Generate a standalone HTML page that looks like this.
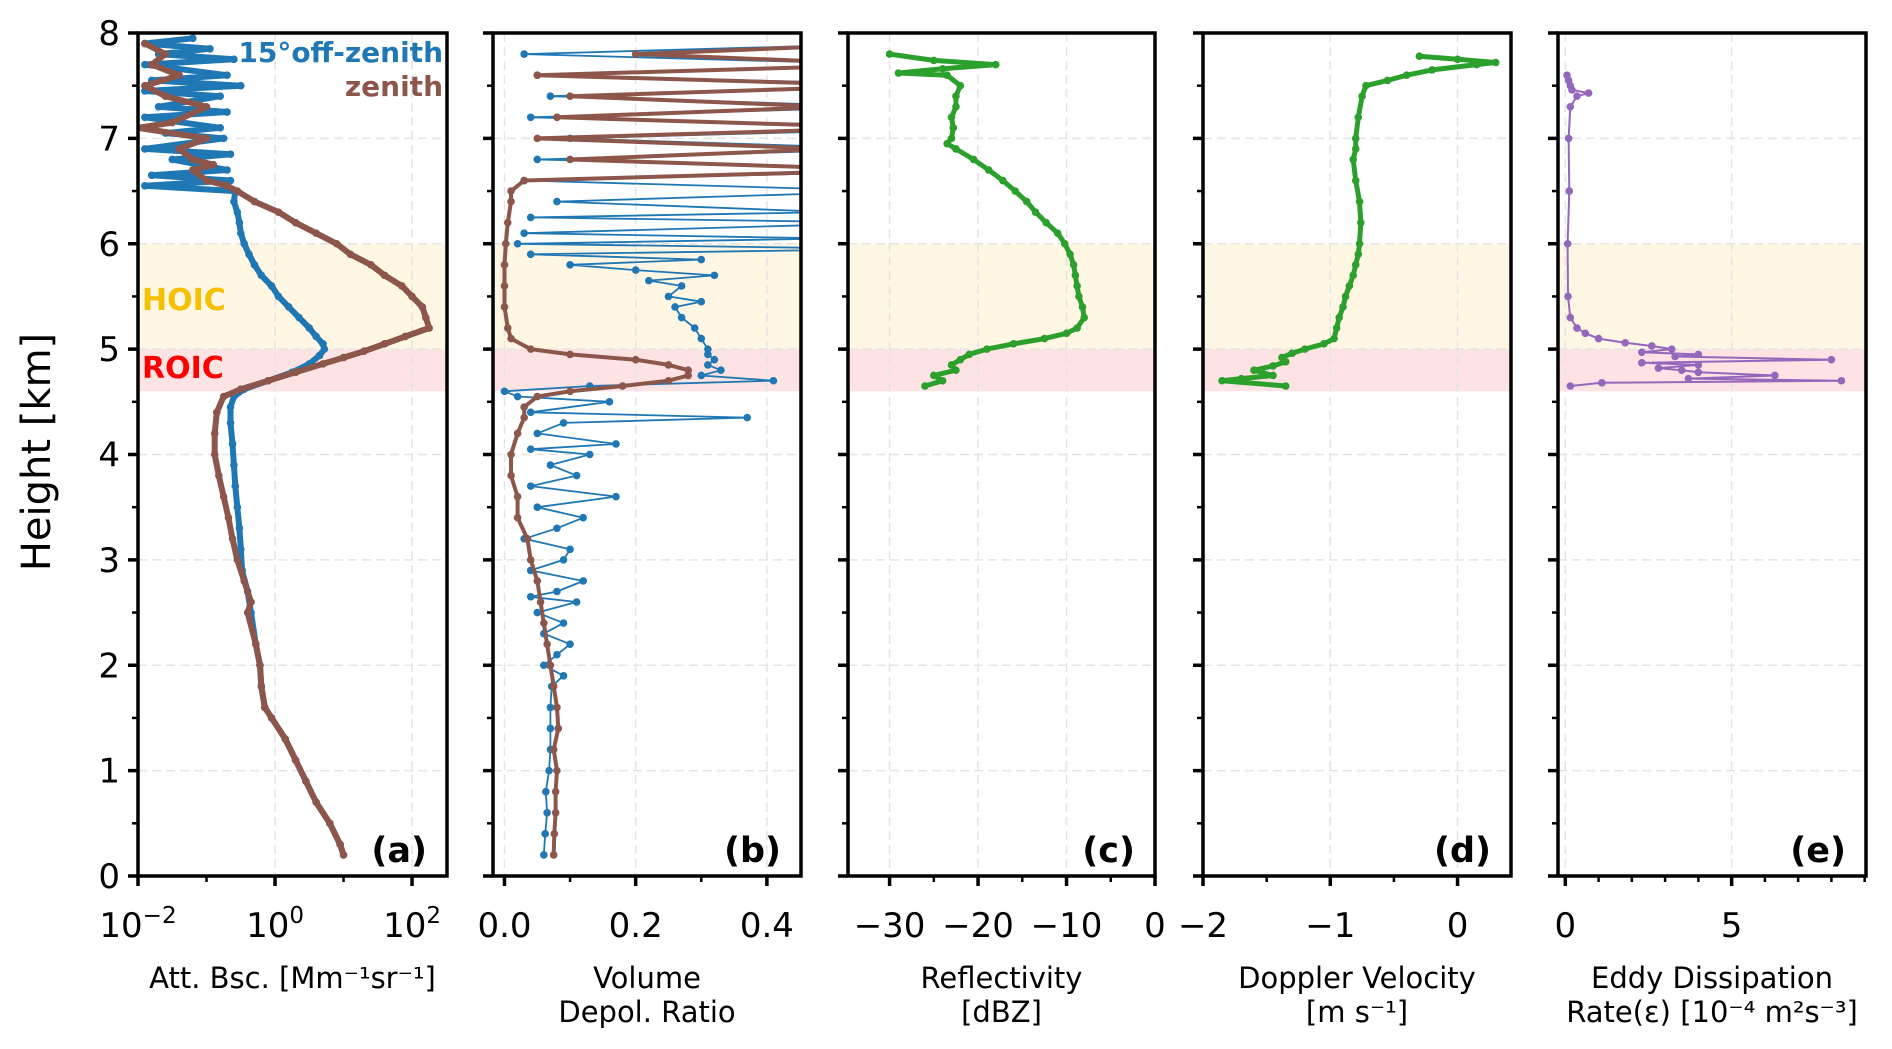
<!DOCTYPE html>
<html><head><meta charset="utf-8"><style>
html,body{margin:0;padding:0;background:#fff;}
svg{display:block;font-family:"DejaVu Sans","Liberation Sans",sans-serif;}
</style></head><body>
<svg id="fig" width="1892" height="1049" viewBox="0 0 1892 1049" xmlns="http://www.w3.org/2000/svg"></svg>
<script>
// ---- data (height km, value) ----
const aBlueH=[0.2,0.3,0.5,0.7,0.9,1.1,1.3,1.5,1.6,1.8,2.0,2.2,2.5,2.7,2.9,3.1,3.3,3.5,3.7,3.9,4.1,4.3,4.45,4.55,4.62,4.7,4.78,4.86,4.94,5.0,5.05,5.12,5.2,5.3,5.4,5.5,5.6,5.7,5.8,5.9,6.0,6.1,6.2,6.3,6.4,6.5,6.55,6.6,6.65,6.7,6.8,6.85,6.9,7.0,7.05,7.1,7.2,7.25,7.3,7.4,7.45,7.5,7.55,7.6,7.7,7.75,7.8,7.85,7.9,7.95];
const aBlueV=[1.0,0.95,0.8,0.6,0.45,0.3,0.15,-0.05,-0.15,-0.2,-0.22,-0.28,-0.35,-0.4,-0.48,-0.5,-0.52,-0.55,-0.58,-0.6,-0.62,-0.65,-0.65,-0.6,-0.45,-0.1,0.25,0.5,0.65,0.72,0.7,0.6,0.5,0.35,0.2,0.05,-0.05,-0.2,-0.3,-0.38,-0.45,-0.5,-0.52,-0.55,-0.6,-0.58,-1.9,-0.65,-1.8,-0.7,-1.5,-0.65,-1.9,-0.75,-1.6,-0.8,-1.9,-0.7,-1.7,-0.8,-1.9,-0.5,-1.8,-0.7,-1.9,-0.6,-1.7,-0.95,-1.9,-1.2];
const aBrownH=[0.2,0.3,0.5,0.7,0.9,1.1,1.3,1.5,1.6,1.8,2.0,2.2,2.5,2.6,2.8,3.0,3.2,3.4,3.6,3.8,4.0,4.2,4.4,4.55,4.62,4.7,4.78,4.86,4.92,4.98,5.05,5.12,5.2,5.3,5.4,5.5,5.6,5.7,5.8,5.9,6.0,6.1,6.2,6.3,6.4,6.5,6.55,6.6,6.7,6.75,6.8,6.9,7.0,7.1,7.15,7.3,7.4,7.5,7.6,7.7,7.8,7.9];
const aBrownV=[1.0,0.95,0.8,0.6,0.45,0.3,0.15,-0.05,-0.15,-0.2,-0.22,-0.28,-0.4,-0.35,-0.45,-0.55,-0.62,-0.68,-0.75,-0.82,-0.88,-0.88,-0.85,-0.75,-0.5,-0.1,0.3,0.7,1.0,1.3,1.6,1.9,2.25,2.2,2.15,2.0,1.85,1.6,1.4,1.1,0.9,0.6,0.3,0.05,-0.3,-0.55,-0.7,-1.0,-1.2,-0.9,-1.2,-1.4,-1.0,-2.0,-1.5,-1.0,-1.6,-1.9,-1.4,-1.8,-1.6,-1.9];
const bBlueH=[0.2,0.4,0.6,0.8,1.0,1.2,1.4,1.6,1.8,1.9,2.0,2.1,2.2,2.3,2.4,2.5,2.6,2.65,2.7,2.8,2.9,3.0,3.1,3.2,3.3,3.4,3.5,3.6,3.7,3.8,3.9,4.0,4.05,4.1,4.2,4.3,4.35,4.4,4.5,4.55,4.6,4.65,4.7,4.75,4.8,4.85,4.9,4.95,5.0,5.1,5.2,5.3,5.4,5.45,5.5,5.6,5.65,5.7,5.75,5.8,5.85,5.9,5.95,6.0,6.05,6.1,6.2,6.25,6.3,6.4,6.5,6.6,6.7,6.8,6.9,7.0,7.1,7.2,7.3,7.4,7.5,7.6,7.7,7.8,7.9];
const bBlueV=[0.06,0.062,0.065,0.063,0.068,0.07,0.07,0.07,0.072,0.09,0.06,0.08,0.1,0.06,0.09,0.05,0.11,0.04,0.08,0.12,0.04,0.09,0.1,0.03,0.08,0.12,0.05,0.17,0.04,0.11,0.07,0.13,0.04,0.17,0.05,0.09,0.37,0.04,0.16,0.02,0.0,0.13,0.41,0.3,0.33,0.31,0.32,0.31,0.31,0.3,0.29,0.27,0.26,0.3,0.25,0.27,0.22,0.32,0.2,0.1,0.3,0.04,0.6,0.02,0.5,0.03,0.6,0.04,0.5,0.08,0.6,0.03,0.7,0.05,0.6,0.1,0.7,0.04,0.6,0.07,0.7,0.05,0.6,0.03,0.6];
const bBrownH=[0.2,0.4,0.6,0.8,1.0,1.2,1.4,1.6,1.8,2.0,2.2,2.4,2.6,2.8,3.0,3.2,3.4,3.6,3.8,4.0,4.2,4.35,4.45,4.55,4.6,4.65,4.7,4.75,4.8,4.85,4.9,4.95,5.0,5.1,5.2,5.4,5.6,5.8,6.0,6.2,6.4,6.5,6.6,6.7,6.8,6.9,7.0,7.1,7.2,7.3,7.4,7.5,7.6,7.7,7.8,7.9];
const bBrownV=[0.075,0.076,0.078,0.078,0.08,0.075,0.082,0.08,0.075,0.07,0.065,0.06,0.055,0.05,0.04,0.035,0.02,0.02,0.01,0.01,0.02,0.03,0.03,0.05,0.1,0.18,0.25,0.28,0.28,0.25,0.2,0.1,0.04,0.01,0.005,0.0,0.0,0.0,0.002,0.005,0.01,0.01,0.03,0.6,0.1,0.5,0.05,0.6,0.08,0.5,0.1,0.6,0.05,0.6,0.2,0.6];
const cH=[4.65,4.7,4.75,4.8,4.85,4.9,4.95,5.0,5.05,5.1,5.15,5.2,5.3,5.4,5.5,5.6,5.7,5.8,5.9,6.0,6.1,6.2,6.3,6.4,6.5,6.6,6.7,6.8,6.9,6.95,7.0,7.1,7.2,7.3,7.4,7.5,7.6,7.62,7.66,7.7,7.74,7.8];
const cV=[-26,-24,-25,-22.5,-23,-22,-21,-19,-16,-12.5,-10,-8.8,-8,-8.2,-8.6,-8.8,-9,-9.2,-9.6,-10.2,-11,-12.3,-13.5,-14.5,-15.8,-17.2,-18.8,-20.5,-22.5,-23.5,-23,-22.8,-23,-22.5,-22.5,-22,-23.5,-29,-24,-18,-25,-30];
const dH=[4.65,4.7,4.72,4.75,4.8,4.84,4.88,4.92,4.96,5.0,5.05,5.1,5.2,5.3,5.4,5.5,5.6,5.7,5.8,5.9,6.0,6.2,6.4,6.6,6.8,6.9,7.0,7.2,7.4,7.5,7.55,7.6,7.65,7.7,7.72,7.75,7.78];
const dV=[-1.35,-1.85,-1.7,-1.45,-1.6,-1.45,-1.35,-1.38,-1.3,-1.2,-1.05,-0.97,-0.95,-0.93,-0.9,-0.88,-0.85,-0.82,-0.8,-0.78,-0.77,-0.76,-0.77,-0.8,-0.82,-0.8,-0.8,-0.78,-0.75,-0.72,-0.55,-0.4,-0.2,0.15,0.3,0.0,-0.3];
const eH=[4.65,4.68,4.7,4.72,4.75,4.78,4.8,4.82,4.85,4.87,4.9,4.93,4.95,4.97,5.0,5.03,5.06,5.1,5.15,5.2,5.3,5.5,6.0,6.5,7.0,7.3,7.4,7.43,7.46,7.5,7.55,7.6];
const eV=[0.15,1.1,8.3,3.7,6.3,4.0,3.5,2.8,4.0,2.3,8.0,3.3,4.0,2.3,3.2,2.6,1.8,1.0,0.6,0.35,0.15,0.08,0.07,0.12,0.1,0.15,0.35,0.7,0.2,0.15,0.1,0.05];

const NS="http://www.w3.org/2000/svg";
const svg=document.getElementById('fig');
function el(t,a,p){const e=document.createElementNS(NS,t);for(const k in a)e.setAttribute(k,a[k]);(p||svg).appendChild(e);return e;}
const TOP=33,BOT=876;
function Y(h){return BOT-(BOT-TOP)*h/8;}
const panels=[
 {id:'a',L:138,R:447,min:-2,max:2.51,ticks:[-2,0,2],labels:[['10','−2'],['10','0'],['10','2']],minor:[],xl:['Att. Bsc. [Mm⁻¹sr⁻¹]']},
 {id:'b',L:493,R:801,min:-0.0175,max:0.452,ticks:[0,0.2,0.4],labels:['0.0','0.2','0.4'],minor:[0.1,0.3],xl:['Volume','Depol. Ratio']},
 {id:'c',L:848,R:1155,min:-34.7,max:0,ticks:[-30,-20,-10,0],labels:['−30','−20','−10','0'],minor:[-25,-15,-5],xl:['Reflectivity','[dBZ]']},
 {id:'d',L:1203,R:1511,min:-2,max:0.42,ticks:[-2,-1,0],labels:['−2','−1','0'],minor:[-1.5,-0.5],xl:['Doppler Velocity','[m s⁻¹]']},
 {id:'e',L:1558,R:1866,min:-0.22,max:9.04,ticks:[0,5],labels:['0','5'],minor:[1,2,3,4,6,7,8,9],xl:['Eddy Dissipation','Rate(ε) [10⁻⁴ m²s⁻³]']}
];
panels.forEach((p,i)=>{
 const g=el('g',{});
 
 
 p.X=v=>p.L+(p.R-p.L)*(v-p.min)/(p.max-p.min);
 const cp=el('clipPath',{id:'clip'+p.id},g);el('rect',{x:p.L,y:TOP,width:p.R-p.L,height:BOT-TOP},cp);
 const hoic=el('rect',{x:p.L,y:Y(6),width:p.R-p.L,height:Y(5)-Y(6),fill:'#fff6e3'},g);
 
 const roic=el('rect',{x:p.L,y:Y(5),width:p.R-p.L,height:Y(4.6)-Y(5),fill:'#fde3e3'},g);
 
 for(let h=1;h<8;h++)el('line',{x1:p.L,x2:p.R,y1:Y(h),y2:Y(h),stroke:'#e4e4e4','stroke-width':1.5,'stroke-dasharray':'9,5'},g);
 p.ticks.forEach(t=>{const x=p.X(t);if(x>p.L+2&&x<p.R-2)el('line',{x1:x,x2:x,y1:TOP,y2:BOT,stroke:'#e4e4e4','stroke-width':1.5,'stroke-dasharray':'9,5'},g);});
 p.g=g;
});
function series(p,H,V,color,r,w,name){
 const g=el('g',{'clip-path':'url(#clip'+p.id+')'},p.g);
 
 
 const pts=H.map((h,k)=>p.X(V[k]).toFixed(1)+','+Y(h).toFixed(1)).join(' ');
 el('polyline',{points:pts,fill:'none',stroke:color,'stroke-width':w,'stroke-linejoin':'round'},g);
 H.forEach((h,k)=>el('circle',{cx:p.X(V[k]),cy:Y(h),r:r,fill:color},g));
}
const P=Object.fromEntries(panels.map(p=>[p.id,p]));
series(P.a,aBlueH,aBlueV,'#1f77b4',3.8,6,'offzenith-backscatter');
series(P.a,aBrownH,aBrownV,'#8c564b',3.8,6,'zenith-backscatter');
series(P.b,bBlueH,bBlueV,'#1f77b4',3.8,1.8,'offzenith-depol');
series(P.b,bBrownH,bBrownV,'#8c564b',3.8,4,'zenith-depol');
series(P.c,cH,cV,'#2ca02c',3.8,5,'reflectivity-line');
series(P.d,dH,dV,'#2ca02c',3.8,5,'doppler-line');
series(P.e,eH,eV,'#9467bd',3.8,2,'dissipation-line');
panels.forEach((p,i)=>{
 const g=p.g;
 el('rect',{x:p.L,y:TOP,width:p.R-p.L,height:BOT-TOP,fill:'none',stroke:'#000','stroke-width':3.5},g);
 for(let h=0;h<=8;h+=0.5){const maj=h%1===0;el('line',{x1:p.L-(maj?10:6),x2:p.L,y1:Y(h),y2:Y(h),stroke:'#000','stroke-width':maj?3.5:2.5},g);
  if(i===0&&maj){const t=el('text',{x:p.L-18,y:Y(h)+12,'text-anchor':'end','font-size':34},g);t.textContent=h;
   }}
 p.ticks.forEach((t,k)=>{const x=p.X(t);el('line',{x1:x,x2:x,y1:BOT,y2:BOT+10,stroke:'#000','stroke-width':3.5},g);
  const tx=el('text',{x:x,y:BOT+61,'text-anchor':'middle','font-size':34},g);
  
  const lb=p.labels[k];
  if(Array.isArray(lb)){tx.textContent=lb[0];const s=el('tspan',{dy:-14,'font-size':23},tx);s.textContent=lb[1];}
  else tx.textContent=lb;});
 if(p.id==='a'){[-1,1].forEach(t=>{const x=p.X(t);el('line',{x1:x,x2:x,y1:BOT,y2:BOT+6,stroke:'#000','stroke-width':2.5},g);});}
 p.minor.forEach(t=>{const x=p.X(t);el('line',{x1:x,x2:x,y1:BOT,y2:BOT+6,stroke:'#000','stroke-width':2.5},g);});
 p.xl.forEach((s,k)=>{const t=el('text',{x:(p.L+p.R)/2,y:988+k*34,'text-anchor':'middle','font-size':29},g);t.textContent=s;
  });
 const pl=el('text',{x:p.R-20,y:BOT-14,'text-anchor':'end','font-size':35,'font-weight':'bold'},g);pl.textContent='('+p.id+')';
 
});
const yl=el('text',{x:50,y:452,'text-anchor':'middle','font-size':40,transform:'rotate(-90 50 452)'});yl.textContent='Height [km]';

const l1=el('text',{x:443,y:62,'text-anchor':'end','font-size':28,'font-weight':'bold',fill:'#1f77b4'});l1.textContent='15°off-zenith';

const l2=el('text',{x:443,y:96,'text-anchor':'end','font-size':28,'font-weight':'bold',fill:'#8c564b'});l2.textContent='zenith';

const h1=el('text',{x:142,y:310,'font-size':30,'font-weight':'bold',fill:'#f5c000'});h1.textContent='HOIC';

const r1=el('text',{x:142,y:378,'font-size':30,'font-weight':'bold',fill:'#ff0000'});r1.textContent='ROIC';

</script>
</body></html>
